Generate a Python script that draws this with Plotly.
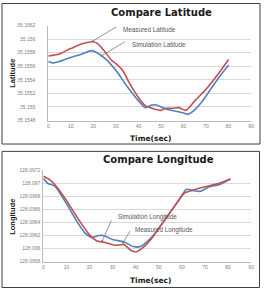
import plotly.graph_objects as go

W, H = 264, 291

# ---- Data: Latitude ----
lat_meas_t = [0, 5, 8, 10, 15, 20, 22, 25, 28, 30, 33, 36, 40, 43, 46, 50, 52, 55, 58, 61, 65, 70, 75, 80]
lat_meas_v = [35.15575, 35.15578, 35.15583, 35.15586, 35.15593, 35.15596, 35.15593, 35.15582, 35.15569,
              35.15564, 35.15554, 35.15535, 35.15514, 35.15502, 35.15498, 35.15495, 35.15498, 35.15498,
              35.15499, 35.15495, 35.15509, 35.15526, 35.15547, 35.15570]
lat_sim_t = [0, 2, 5, 10, 15, 19, 21, 25, 30, 35, 40, 43, 46, 48, 52, 56, 60, 62, 64, 68, 72, 76, 80]
lat_sim_v = [35.15567, 35.15565, 35.15567, 35.15573, 35.15578, 35.15583, 35.15581, 35.15572, 35.15554,
             35.15530, 35.15509, 35.15499, 35.15503, 35.15503, 35.15497, 35.15494, 35.15491, 35.15489,
             35.15493, 35.15507, 35.15526, 35.15545, 35.15562]
lat_ticks = [35.1548, 35.155, 35.1552, 35.1554, 35.1556, 35.1558, 35.156, 35.1562]
lat_ticktext = ["35.1548", "35.155", "35.1552", "35.1554", "35.1556", "35.1558", "35.156", "35.1562"]

# ---- Data: Longitude ----
lon_meas_t = [0, 3, 6, 10, 15, 20, 23, 27, 31, 35, 38, 40, 43, 47, 52, 57, 61, 64, 70, 75, 81]
lon_meas_v = [128.09711, 128.09705, 128.09694, 128.09674, 128.09646, 128.09621, 128.09612, 128.09609,
              128.09605, 128.09606, 128.09597, 128.09595, 128.09601, 128.09616, 128.09641, 128.09666,
              128.09685, 128.09689, 128.09695, 128.09699, 128.09707]
lon_sim_t = [0, 2, 5, 10, 15, 18, 21, 24, 26, 30, 35, 39, 42, 46, 50, 55, 59, 62, 65, 68, 72, 76, 81]
lon_sim_v = [128.09708, 128.09700, 128.09696, 128.09669, 128.09639, 128.09624, 128.09617, 128.09620,
             128.09620, 128.09614, 128.09610, 128.09603, 128.09603, 128.09614, 128.09631, 128.09656,
             128.09676, 128.09691, 128.09689, 128.09688, 128.09695, 128.09698, 128.09707]
lon_ticks = [128.0958, 128.096, 128.0962, 128.0964, 128.0966, 128.0968, 128.097, 128.0972]
lon_ticktext = ["128.0958", "128.096", "128.0962", "128.0964", "128.0966", "128.0968", "128.097", "128.0972"]

x_ticks = [0, 10, 20, 30, 40, 50, 60, 70, 80, 90]

RED = "#C0504D"
BLUE = "#4F81BD"
FONT = "Liberation Sans"


def px(x):
    return x / W


def py(y):
    return 1 - y / H


line_style = dict(width=1.6, shape="spline", smoothing=0.6)
fig = go.Figure()
fig.add_trace(go.Scatter(x=lat_sim_t, y=lat_sim_v, mode="lines", line=dict(color=BLUE, **line_style),
                         xaxis="x", yaxis="y", showlegend=False))
fig.add_trace(go.Scatter(x=lat_meas_t, y=lat_meas_v, mode="lines", line=dict(color=RED, **line_style),
                         xaxis="x", yaxis="y", showlegend=False))
fig.add_trace(go.Scatter(x=lon_sim_t, y=lon_sim_v, mode="lines", line=dict(color=BLUE, **line_style),
                         xaxis="x2", yaxis="y2", showlegend=False))
fig.add_trace(go.Scatter(x=lon_meas_t, y=lon_meas_v, mode="lines", line=dict(color=RED, **line_style),
                         xaxis="x2", yaxis="y2", showlegend=False))

tickfont = dict(family=FONT, size=5, color="#808080")
xcommon = dict(range=[0, 90], tickvals=x_ticks, showgrid=False, zeroline=False, showline=True,
               linecolor="#BBBBBB", linewidth=1, ticks="", tickfont=tickfont, fixedrange=True)
ycommon = dict(showgrid=True, gridcolor="#D9D9D9", gridwidth=1, zeroline=False, showline=True,
               linecolor="#BBBBBB", linewidth=1, ticks="", tickfont=tickfont, fixedrange=True)

fig.update_layout(
    width=W, height=H,
    margin=dict(l=0, r=0, t=0, b=0),
    paper_bgcolor="white", plot_bgcolor="white",
    xaxis=dict(domain=[px(48), px(254)], anchor="y", **xcommon),
    yaxis=dict(domain=[py(120), py(23)], anchor="x", range=[35.1548, 35.1562],
               tickvals=lat_ticks, ticktext=lat_ticktext, ticklabelstandoff=11, **ycommon),
    xaxis2=dict(domain=[px(43), px(254)], anchor="y2", **xcommon),
    yaxis2=dict(domain=[py(264), py(171)], anchor="x2", range=[128.0958, 128.0972],
                tickvals=lon_ticks, ticktext=lon_ticktext, ticklabelstandoff=1, **ycommon),
)

# Panel borders
fig.add_shape(type="rect", xref="paper", yref="paper", x0=px(1), x1=px(263), y0=py(144), y1=py(0.5),
              line=dict(color="#404040", width=1))
fig.add_shape(type="rect", xref="paper", yref="paper", x0=px(1), x1=px(262.5), y0=py(290.5), y1=py(151.5),
              line=dict(color="#404040", width=1))

ann = []
P = dict(xref="paper", yref="paper", showarrow=False, yanchor="middle")
# Titles
ann.append(dict(text="<b>Compare Latitude</b>", x=px(163), y=py(10), xanchor="center",
                font=dict(family="DejaVu Sans", size=10, color="#1a1a1a"), **P))
ann.append(dict(text="<b>Compare Longitude</b>", x=px(160), y=py(160), xanchor="center",
                font=dict(family="DejaVu Sans", size=10, color="#1a1a1a"), **P))
# Axis titles
for yy in (138, 283):
    ann.append(dict(text="<b>Time(sec)</b>", x=px(152), y=py(yy), xanchor="center",
                    font=dict(family="DejaVu Sans", size=7.5, color="#1a1a1a"), **P))
ann.append(dict(text="<b>Latitude</b>", x=px(11.5), y=py(72), xanchor="center", textangle=-90,
                font=dict(family=FONT, size=7.5, color="#1a1a1a"), **P))
ann.append(dict(text="<b>Longitude</b>", x=px(11.5), y=py(218), xanchor="center", textangle=-90,
                font=dict(family=FONT, size=7.5, color="#1a1a1a"), **P))

# Callout labels
lab_font = dict(family=FONT, size=6.3, color="#555555")
ann.append(dict(text="Measured Latitude", x=px(122), y=py(27), xanchor="left", font=lab_font, **P))
ann.append(dict(text="Simulation Latitude", x=px(131), y=py(42), xanchor="left", font=lab_font, **P))
ann.append(dict(text="Simulation Longitude", x=px(117), y=py(219), xanchor="left", font=lab_font, **P))
ann.append(dict(text="Measured Longitude", x=px(134), y=py(232), xanchor="left", font=lab_font, **P))

# Callout arrows
arr = dict(text="", showarrow=True, arrowhead=6, arrowsize=0.6, arrowwidth=0.8, arrowcolor="#777777",
           axref="pixel", ayref="pixel")
ann.append(dict(x=19.7, y=35.15597, xref="x", yref="y", ax=25, ay=-15, **arr))
ann.append(dict(x=23.6, y=35.155753, xref="x", yref="y", ax=25, ay=-15, **arr))
ann.append(dict(x=25.5, y=128.09612, xref="x2", yref="y2", ax=10, ay=-22, **arr))
ann.append(dict(x=34.5, y=128.09609, xref="x2", yref="y2", ax=8, ay=-13, **arr))

fig.update_layout(annotations=ann)

fig.write_html("out.html")
